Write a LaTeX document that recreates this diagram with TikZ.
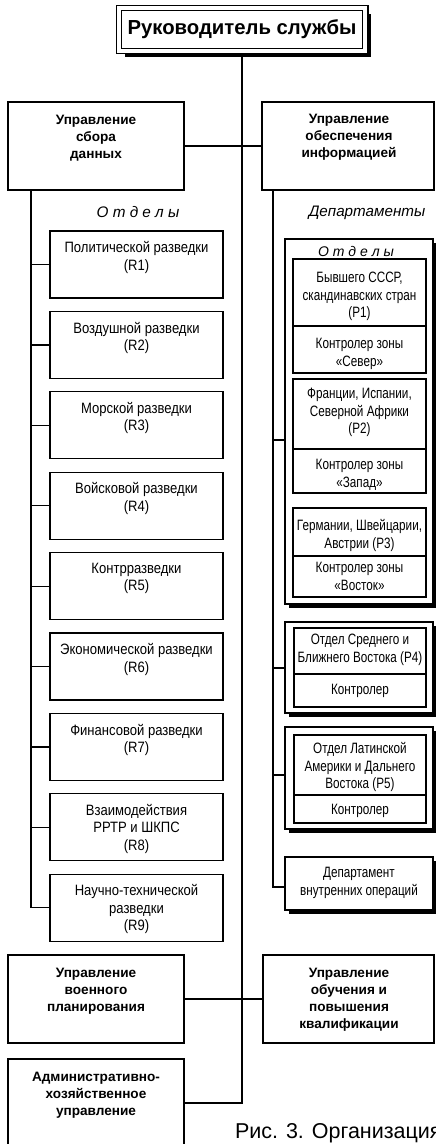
\documentclass[tikz,border=0pt]{standalone}
\usepackage{fontspec}
\setmainfont{Liberation Sans}
\newfontfamily\condL[FakeStretch=0.87]{Liberation Sans}
\newfontfamily\condR[FakeStretch=0.78]{Liberation Sans}
\usetikzlibrary{shadows,backgrounds}
\tikzset{
  every node/.style={inner sep=0pt, outer sep=0pt},
  conn/.style={line width=1.2pt},
  shad/.style={drop shadow={shadow xshift=#1, shadow yshift=-#1, opacity=1, fill=black}},
  mgmt/.style={draw, line width=2.4pt, fill=white, anchor=north west},
  sub/.style={draw, line width=1.2pt, fill=white, anchor=north west},
  grp/.style={draw, line width=1.2pt, fill=white, anchor=north west, shad=3.5pt},
  btxt/.style={font=\fontsize{13.6}{17}\selectfont\bfseries, align=center, anchor=north},
  ltxt/.style={font=\condL\fontsize{15}{17.5}\selectfont, align=center, anchor=north},
  rtxt/.style={font=\condR\fontsize{15}{17.5}\selectfont, align=center, anchor=north},
  itxt/.style={font=\fontsize{#1}{18}\selectfont\itshape, anchor=center},
}
\begin{document}
\begin{tikzpicture}[x=1pt,y=-1pt]
\useasboundingbox (0,0) rectangle (436,1144);
\clip (0,0) rectangle (436,1144);

% head
\node[draw, double, double distance=4pt, line width=1.2pt, fill=white,
      minimum width=246.6, minimum height=42.6, shad=6pt] (top) at (242,29.5)
      {\fontsize{20.3}{22}\selectfont\bfseries Руководитель службы};

% main boxes
\node[mgmt, minimum width=176, minimum height=88] (m1) at (8,102) {};
\node[mgmt, minimum width=172, minimum height=88] (m2) at (262,102) {};
\node[mgmt, minimum width=176, minimum height=88] (plan) at (8,955) {};
\node[mgmt, minimum width=171, minimum height=88] (train) at (263,955) {};
\node[mgmt, minimum width=176, minimum height=110] (adm) at (8,1059) {};
\node[btxt] (m1t) at (96,115) {Управление\\сбора\\данных};
\node[btxt] (m2t) at (349,114) {Управление\\обеспечения\\информацией};
\node[btxt] (plant) at (96,968) {Управление\\военного\\планирования};
\node[btxt] (traint) at (349,968) {Управление\\обучения и\\повышения\\квалификации};
\node[btxt] (admt) at (96,1072) {Административно-\\хозяйственное\\управление};

% left departments
\node[itxt=15.3] (lo) at (138,212) {О т д е л ы};
\node[sub, minimum width=173, minimum height=67] (r1) at (50,231) {};
\node[sub, minimum width=173, minimum height=67] (r2) at (50,311.4) {};
\node[sub, minimum width=173, minimum height=67] (r3) at (50,391.8) {};
\node[sub, minimum width=173, minimum height=67] (r4) at (50,472.2) {};
\node[sub, minimum width=173, minimum height=67] (r5) at (50,552.6) {};
\node[sub, minimum width=173, minimum height=67] (r6) at (50,633) {};
\node[sub, minimum width=173, minimum height=67] (r7) at (50,713.4) {};
\node[sub, minimum width=173, minimum height=67] (r8) at (50,793.8) {};
\node[sub, minimum width=173, minimum height=67] (r9) at (50,874.2) {};
\node[ltxt] (r1t) at ([yshift=-10.5pt]r1.north) {Политической разведки\\(R1)};
\node[ltxt] (r2t) at ([yshift=-10.5pt]r2.north) {Воздушной разведки\\(R2)};
\node[ltxt] (r3t) at ([yshift=-10.5pt]r3.north) {Морской разведки\\(R3)};
\node[ltxt] (r4t) at ([yshift=-10.5pt]r4.north) {Войсковой разведки\\(R4)};
\node[ltxt] (r5t) at ([yshift=-10.5pt]r5.north) {Контрразведки\\(R5)};
\node[ltxt] (r6t) at ([yshift=-10.5pt]r6.north) {Экономической разведки\\(R6)};
\node[ltxt] (r7t) at ([yshift=-10.5pt]r7.north) {Финансовой разведки\\(R7)};
\node[ltxt] (r8t) at ([yshift=-10.5pt]r8.north) {Взаимодействия\\РРТР и ШКПС\\(R8)};
\node[ltxt] (r9t) at ([yshift=-10.5pt]r9.north) {Научно-технической\\разведки\\(R9)};

% right departments
\node[itxt=15.2] (dep) at (367,213) {Департаменты};
\node[grp, minimum width=148, minimum height=365] (g1) at (285,239) {};
\node[itxt=14] (ro) at (356,251) {О т д е л ы};
\node[sub, minimum width=133, minimum height=67] (p1) at (293,259) {};
\node[sub, minimum width=133, minimum height=47] (p1c) at (293,326) {};
\node[sub, minimum width=133, minimum height=70] (p2) at (293,379) {};
\node[sub, minimum width=133, minimum height=44] (p2c) at (293,449) {};
\node[sub, minimum width=133, minimum height=48] (p3) at (293,508) {};
\node[sub, minimum width=133, minimum height=41] (p3c) at (293,556) {};
\node[rtxt] (p1t) at (359.5,272.5) {Бывшего СССР,\\скандинавских стран\\(P1)};
\node[rtxt] (p1ct) at (359.5,338.5) {Контролер зоны\\«Север»};
\node[rtxt] (p2t) at (359.5,388.5) {Франции, Испании,\\Северной Африки\\(P2)};
\node[rtxt] (p2ct) at (359.5,459.5) {Контролер зоны\\«Запад»};
\node[rtxt] (p3t) at (359.5,519.5) {Германии, Швейцарии,\\Австрии (P3)};
\node[rtxt] (p3ct) at (359.5,562.5) {Контролер зоны\\«Восток»};

\node[grp, minimum width=148, minimum height=91] (g2) at (285,622) {};
\node[sub, minimum width=132, minimum height=46] (p4) at (294,628) {};
\node[sub, minimum width=132, minimum height=33] (p4c) at (294,674) {};
\node[rtxt] (p4t) at (360,634.5) {Отдел Среднего и\\Ближнего Востока (P4)};
\node[rtxt] (p4ct) at (360,684.5) {Контролер};

\node[grp, minimum width=148, minimum height=102] (g3) at (285,727) {};
\node[sub, minimum width=132, minimum height=60] (p5) at (294,735) {};
\node[sub, minimum width=132, minimum height=28] (p5c) at (294,795) {};
\node[rtxt] (p5t) at (360,742.5) {Отдел Латинской\\Америки и Дальнего\\Востока (P5)};
\node[rtxt] (p5ct) at (360,804.5) {Контролер};

\node[grp, minimum width=148, minimum height=53] (dio) at (285,857) {};
\node[rtxt] (diot) at (359,867.5) {Департамент\\внутренних операций};

% caption
\node[anchor=base west, font=\fontsize{21.5}{24}\selectfont] (cap) at (235,1138) {Рис. 3. Организация};

% connectors
\begin{scope}[on background layer]
\coordinate (spine) at (242,1103);
\draw[conn] (top.south) -- (spine) -- (spine -| adm.east);
\draw[conn] (m1.east) -- (m2.west);
\draw[conn] (plan.east) -- (train.west);
\coordinate (lt) at (31,190);
\draw[conn] (lt) |- (r9.west);
\foreach \i in {1,...,8} { \draw[conn] (lt |- r\i.west) -- (r\i.west); }
\coordinate (rt) at (273,190);
\coordinate (dj) at (273,887);
\coordinate (g1j) at (273,440);
\coordinate (g2j) at (273,668);
\coordinate (g3j) at (273,775);
\draw[conn] (rt) -- (dj) -- (dj -| dio.west);
\draw[conn] (g1j) -- (g1j -| g1.west);
\draw[conn] (g2j) -- (g2j -| g2.west);
\draw[conn] (g3j) -- (g3j -| g3.west);
\end{scope}
\end{tikzpicture}
\end{document}
